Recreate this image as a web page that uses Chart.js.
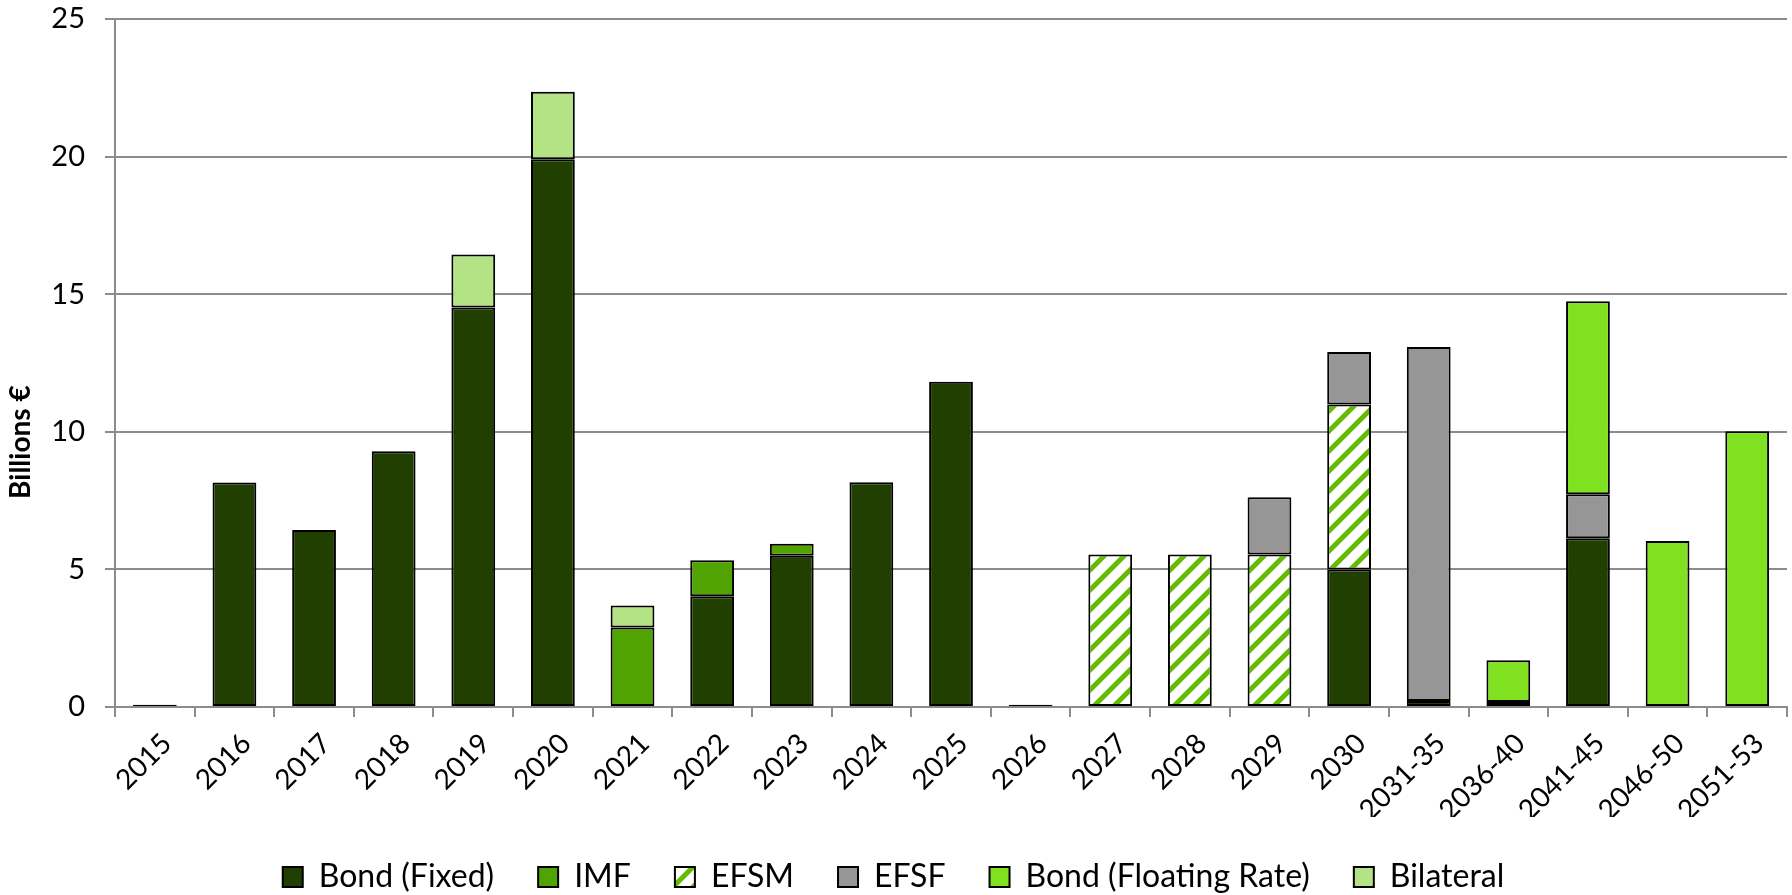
<!DOCTYPE html>
<html>
<head>
<meta charset="utf-8">
<script src="https://cdn.jsdelivr.net/npm/chart.js@4.4.1/dist/chart.umd.min.js"></script>
<style>
  html, body { margin: 0; padding: 0; background: #ffffff; }
  #wrap { width: 1792px; height: 895px; }
</style>
</head>
<body>
<div id="wrap"><canvas id="c" width="1792" height="895"></canvas></div>
<script>
// Redemption profile, billions of euro, by maturity year
const categories = ['2015', '2016', '2017', '2018', '2019', '2020', '2021', '2022', '2023', '2024', '2025',
  '2026', '2027', '2028', '2029', '2030', '2031-35', '2036-40', '2041-45', '2046-50', '2051-53'];

const bondFixed    = [0, 8.16, 6.43, 9.29, 14.52, 19.90, 0, 4.02, 5.50, 8.17, 11.82, 0, 0, 0, 0, 5.00, 0.22, 0.18, 6.13, 0, 0];
const imf          = [0, 0, 0, 0, 0, 0, 2.89, 1.31, 0.43, 0, 0, 0, 0, 0, 0, 0, 0, 0, 0, 0, 0];
const efsm         = [0, 0, 0, 0, 0, 0, 0, 0, 0, 0, 0, 0, 5.54, 5.54, 5.54, 5.99, 0, 0, 0, 0, 0];
const efsf         = [0, 0, 0, 0, 0, 0, 0, 0, 0, 0, 0, 0.08, 0, 0, 2.08, 1.91, 12.86, 0, 1.60, 0, 0];
const bondFloating = [0, 0, 0, 0, 0, 0, 0, 0, 0, 0, 0, 0, 0, 0, 0, 0, 0, 1.52, 7.01, 6.03, 10.02];
const bilateral    = [0.08, 0, 0, 0, 1.92, 2.46, 0.80, 0, 0, 0, 0, 0, 0, 0, 0, 0, 0, 0, 0, 0, 0];

const yTicks = [0, 5, 10, 15, 20, 25];
const yTitle = 'Billions €';

const canvas = document.getElementById('c');
const ctx = canvas.getContext('2d');

// White tile with upward diagonal green stripes for the EFSM series
function stripePattern() {
  const s = 20;
  const tile = document.createElement('canvas');
  tile.width = s; tile.height = s;
  const g = tile.getContext('2d');
  g.fillStyle = '#ffffff';
  g.fillRect(0, 0, s, s);
  g.strokeStyle = '#64bc00';
  g.lineWidth = 5;
  g.beginPath();
  g.moveTo(-5, s + 5); g.lineTo(s + 5, -5);
  g.moveTo(-5, 5); g.lineTo(5, -5);
  g.moveTo(s - 5, s + 5); g.lineTo(s + 5, s - 5);
  g.stroke();
  return ctx.createPattern(tile, 'repeat');
}

const FONT = 'Lato, "Open Sans", sans-serif';
const GRID = '#8c8c8c';

function series(label, data, color) {
  return {
    label, data,
    backgroundColor: color,
    borderColor: '#000000',
    borderWidth: 2,
    borderSkipped: false,
    barPercentage: 0.55,
    categoryPercentage: 1.0,
    stack: 'all'
  };
}

// Vertical axis title, placed a little below the middle of the value axis
const axisTitle = {
  id: 'axisTitle',
  afterDraw(chart) {
    const c = chart.ctx;
    const area = chart.chartArea;
    c.save();
    c.translate(21, area.top + (area.bottom - area.top) * 0.615);
    c.rotate(-Math.PI / 2);
    c.font = 'bold 28px ' + FONT;
    c.fillStyle = '#000000';
    c.textAlign = 'center';
    c.textBaseline = 'middle';
    c.fillText(yTitle, 0, 0);
    c.restore();
  }
};

new Chart(ctx, {
  type: 'bar',
  data: {
    labels: categories,
    datasets: [
      series('Bond (Fixed)', bondFixed, '#203f00'),
      series('IMF', imf, '#50a300'),
      series('EFSM', efsm, stripePattern()),
      series('EFSF', efsf, '#969696'),
      series('Bond (Floating Rate)', bondFloating, '#80e120'),
      series('Bilateral', bilateral, '#b3e384')
    ]
  },
  plugins: [axisTitle],
  options: {
    responsive: false,
    animation: false,
    devicePixelRatio: 1,
    layout: { padding: { top: 19, right: 5, left: 0, bottom: -8 } },
    plugins: {
      tooltip: { enabled: false },
      legend: {
        position: 'bottom',
        align: 'center',
        labels: {
          boxWidth: 20,
          boxHeight: 20,
          padding: 44,
          color: '#000000',
          font: { family: FONT, size: 32 }
        }
      }
    },
    scales: {
      x: {
        stacked: true,
        offset: true,
        grid: {
          display: true,
          drawOnChartArea: false,
          offset: true,
          color: GRID,
          lineWidth: 2,
          tickLength: 10
        },
        border: { display: true, color: GRID, width: 2 },
        ticks: {
          color: '#000000',
          font: { family: FONT, size: 28 },
          minRotation: 45,
          maxRotation: 45,
          autoSkip: false,
          labelOffset: 12,
          padding: 10
        },
        afterFit(scale) { scale.height = 110; }
      },
      y: {
        stacked: true,
        min: 0,
        max: 25,
        afterBuildTicks(scale) { scale.ticks = yTicks.map(v => ({ value: v })); },
        grid: {
          color: GRID,
          lineWidth: 2,
          tickLength: 10
        },
        border: { display: true, color: GRID, width: 2 },
        ticks: {
          color: '#000000',
          font: { family: FONT, size: 29 },
          padding: 20
        },
        afterFit(scale) {
          scale.width = 115;
          scale.paddingTop = 0;
          scale.paddingBottom = 0;
        }
      }
    }
  }
});
</script>
</body>
</html>
